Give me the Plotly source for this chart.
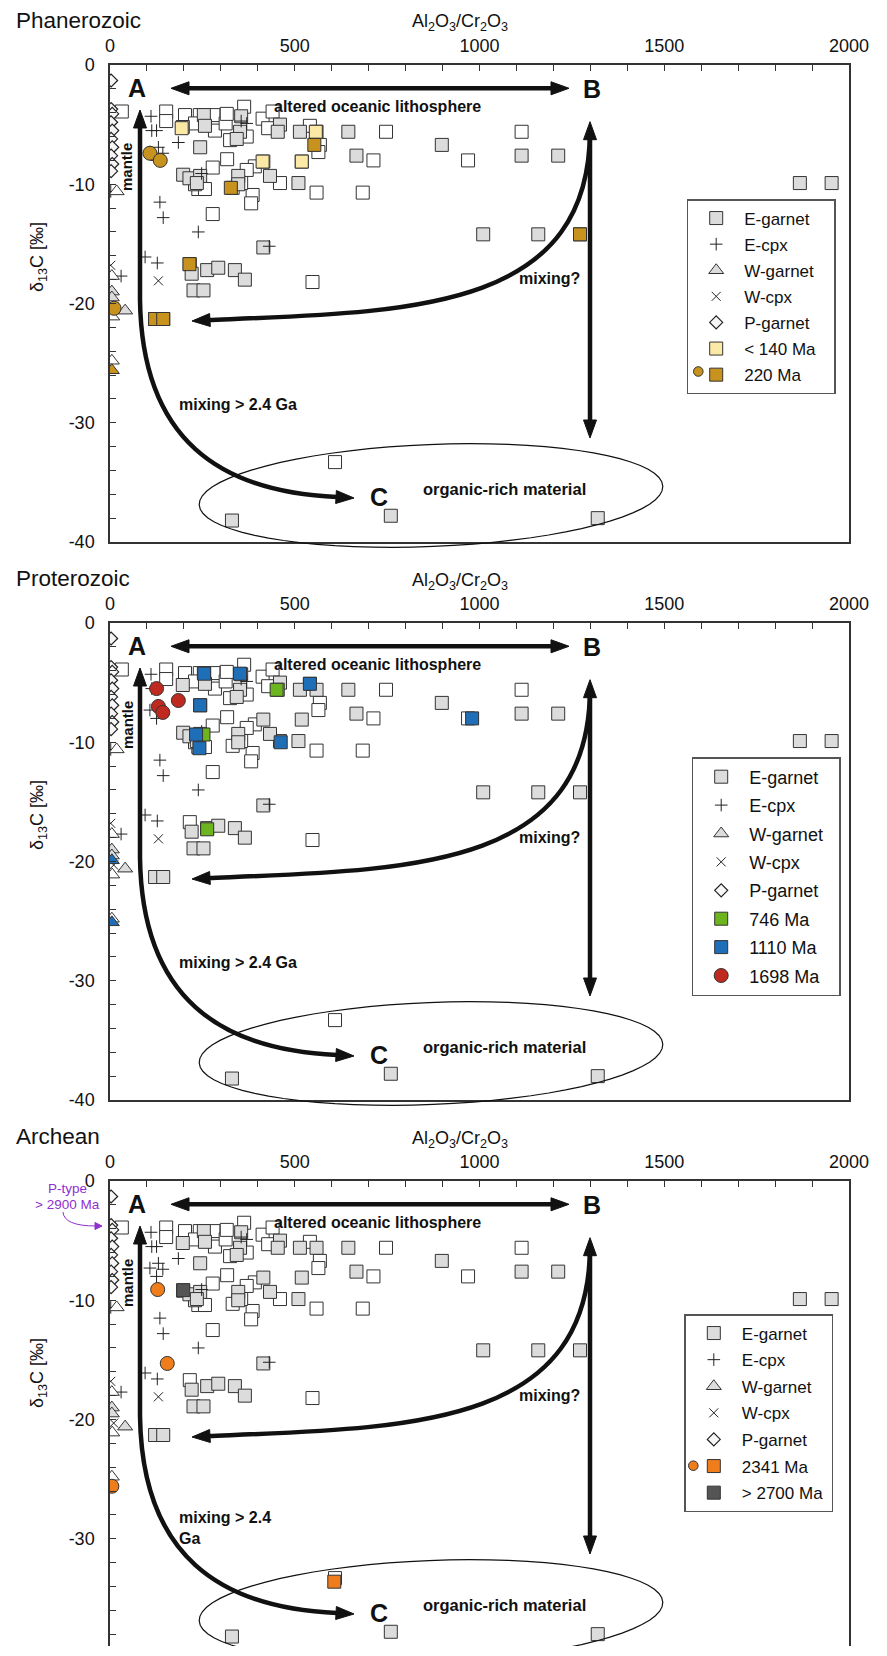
import numpy as np
import plotly.graph_objects as go

# page geometry (reference pixels) and the 8px body offset of the html page
PAGE_W, PAGE_H = 887, 1656
OFF = 8
W, H = 869, 1638            # figure size so that the page fits without scrollbars
TOPS = [65, 623, 1181]      # page y of the plot tops
PH = 477
XL, XR = 110, 849

# ---------------- data (Al2O3/Cr2O3 , d13C) ----------------
egarnet_x = [254, 257, 197, 355, 352, 343, 460, 454, 514, 559, 645, 898, 244, 415, 519, 667, 198, 215, 244, 235,
             347, 347, 433, 510, 415, 221, 263, 293, 338, 365, 226, 253, 122, 144, 1114, 1213, 1867, 1953, 1010,
             1159, 1272, 330, 760, 1320]
egarnet_y = [-4.2, -5.1, -5.2, -4.3, -5.6, -6.2, -5.0, -5.6, -5.6, -5.6, -5.6, -6.7, -6.9, -8.1, -8.1, -7.6, -9.2,
             -9.5, -9.3, -9.9, -9.3, -10.0, -9.3, -9.9, -15.3, -17.5, -17.2, -17.0, -17.2, -18.0, -18.9, -18.9,
             -21.3, -21.3, -7.6, -7.6, -9.9, -9.9, -14.2, -14.2, -14.2, -38.2, -37.8, -38.0]

eopen_x = [32, 152, 152, 203, 243, 230, 280, 284, 313, 316, 363, 370, 325, 413, 440, 428, 541, 568, 564, 747, 317,
           392, 713, 278, 239, 257, 332, 370, 386, 382, 460, 559, 684, 278, 216, 548, 1114, 969, 609, 355, 230]
eopen_y = [-3.9, -3.9, -4.7, -4.2, -4.2, -4.9, -4.2, -5.5, -4.9, -4.1, -3.5, -6.0, -6.3, -4.5, -3.9, -5.3, -5.1,
           -6.7, -7.3, -5.6, -7.9, -8.5, -8.0, -8.6, -10.4, -10.4, -10.3, -8.8, -10.9, -11.6, -9.9, -10.7, -10.7,
           -12.5, -16.7, -18.2, -5.6, -8.0, -33.3, -9.9, -10.0]

ecpx_x = [2, 111, 113, 126, 185, 108, 131, 143, 126, 248, 135, 144, 239, 95, 128, 431, 30, 355, 370]
ecpx_y = [-10.6, -4.3, -5.5, -5.5, -6.5, -7.3, -6.9, -7.4, -8.0, -9.1, -11.5, -12.8, -14.0, -16.1, -16.6, -15.2,
          -17.7, -4.7, -4.9]

wcpx_x = [3, 3, 2, 131, 10]
wcpx_y = [-4.3, -5.0, -16.8, -18.1, -20.3]

wgarnet_x = [5, 5, 41]
wgarnet_y = [-19.0, -19.5, -20.6]
wgarnet_open_x = [18, 5, 6, 5]
wgarnet_open_y = [-10.6, -17.7, -21.1, -24.8]

pgarnet_x = [3, 3, 6, 3, 6, 3, 6, 3, 6, 3]
pgarnet_y = [-1.3, -3.7, -4.1, -4.8, -5.5, -6.2, -6.9, -7.6, -8.3, -8.9]

# Phanerozoic highlights
lt140_x = [194, 557, 413, 519]
lt140_y = [-5.3, -5.6, -8.1, -8.1]
ma220_sq_x = [553, 327, 215, 122, 144, 1272]
ma220_sq_y = [-6.7, -10.3, -16.7, -21.3, -21.3, -14.2]
ma220_ci_x = [108, 136, 11]
ma220_ci_y = [-7.4, -8.0, -20.4]
ma220_tri_x = [5]
ma220_tri_y = [-25.6]

# Proterozoic highlights
ma746_x = [451, 253, 263]
ma746_y = [-5.6, -9.35, -17.3]
ma1110_x = [255, 352, 541, 244, 233, 242, 462, 980]
ma1110_y = [-4.25, -4.25, -5.1, -6.9, -9.35, -10.5, -10.0, -8.0]
ma1110_tri_x = [5, 5]
ma1110_tri_y = [-19.9, -25.1]
ma1698_x = [126, 185, 131, 143]
ma1698_y = [-5.5, -6.5, -7.0, -7.5]

# Archean highlights
ma2341_ci_x = [129, 155, 5]
ma2341_ci_y = [-9.1, -15.3, -25.6]
ma2341_sq_x = [607]
ma2341_sq_y = [-33.6]
ma2700_x = [198]
ma2700_y = [-9.15]

x_ticks = [0, 500, 1000, 1500, 2000]
y_ticks = [-40, -30, -20, -10, 0]
y_ticktext = ["-40", "-30", "-20", "-10", "0"]
panel_titles = ["Phanerozoic", "Proterozoic", "Archean"]

# ---------------- styling ----------------
FONT = "Liberation Sans, Arial, Helvetica, sans-serif"
EDGE = "#333333"
GRAY = "#dcdcdc"
GOLD = "#c8921e"
LIGHT = "#fde9a6"
GREEN = "#6db51f"
BLUE = "#1f6eb8"
RED = "#c0291f"
ORANGE = "#f07d1c"
DARK = "#555555"
PURPLE = "#9030d0"


def fx(x):
    return (x - OFF) / W


def fy(y):
    return 1 - (y - OFF) / H


fig = go.Figure()


def sc(i, x, y, name, symbol, size, color, legend, lw=1.0, linecolor=EDGE):
    xa = "x" if i == 0 else f"x{i+1}"
    ya = "y" if i == 0 else f"y{i+1}"
    lg = "legend" if i == 0 else f"legend{i+1}"
    fig.add_trace(go.Scatter(
        x=x, y=y, mode="markers", name=name, xaxis=xa, yaxis=ya, legend=lg,
        legendgroup=f"p{i}_{name}_{symbol}", showlegend=legend,
        marker=dict(symbol=symbol, size=size, color=color, line=dict(color=linecolor, width=lw)),
        hoverinfo="skip"))


pads = ["\u00a0" * 4, "\u00a0" * 3, "\u00a0" * 4]
for i in range(3):
    sc(i, eopen_x, eopen_y, "open", "square", 13, "white", False)
    sc(i, egarnet_x, egarnet_y, "E-garnet" + pads[i], "square", 13, GRAY, True)
    sc(i, ecpx_x, ecpx_y, "E-cpx", "cross-thin", 9, "#222", True, lw=1.0, linecolor="#222")
    sc(i, wgarnet_open_x, wgarnet_open_y, "wopen", "triangle-up", 13, "white", False)
    sc(i, wgarnet_x, wgarnet_y, "W-garnet", "triangle-up", 13, GRAY, True)
    sc(i, wcpx_x, wcpx_y, "W-cpx", "x-thin", 9, "#222", True, lw=1.0, linecolor="#222")
    sc(i, pgarnet_x, pgarnet_y, "P-garnet", "diamond", 10, "#f6f6f6", True, lw=1.2, linecolor="#222")
    if i == 0:
        sc(i, lt140_x, lt140_y, "&lt; 140 Ma", "square", 13, LIGHT, True)
        sc(i, ma220_ci_x, ma220_ci_y, "220c", "circle", 14, GOLD, False)
        sc(i, ma220_tri_x, ma220_tri_y, "220t", "triangle-up", 13, GOLD, False)
        sc(i, ma220_sq_x, ma220_sq_y, "220 Ma", "square", 13, GOLD, True)
    elif i == 1:
        sc(i, ma746_x, ma746_y, "746 Ma", "square", 13, GREEN, True)
        sc(i, ma1110_x, ma1110_y, "1110 Ma", "square", 13, BLUE, True)
        sc(i, ma1110_tri_x, ma1110_tri_y, "1110t", "triangle-up", 13, BLUE, False)
        sc(i, ma1698_x, ma1698_y, "1698 Ma", "circle", 14, RED, True)
    else:
        sc(i, ma2341_ci_x, ma2341_ci_y, "2341c", "circle", 14, ORANGE, False)
        sc(i, ma2341_sq_x, ma2341_sq_y, "2341 Ma", "square", 13, ORANGE, True)
        sc(i, ma2700_x, ma2700_y, "&gt; 2700 Ma", "square", 13, DARK, True)

layout = dict(width=W, height=H, margin=dict(l=0, r=0, t=0, b=0, pad=0, autoexpand=False),
              paper_bgcolor="white", plot_bgcolor="white", showlegend=True,
              font=dict(family=FONT, color="#111"))

leg_pos = [(686.7, 199, 17, 1.0), (691.7, 757, 18, 2.0), (684.3, 1314, 17, 1.5)]
px_per_unit = PH / 40.0
for i in range(3):
    top = TOPS[i]
    bot = top + PH
    y0 = fy(bot)
    yr0 = -40
    mirror = True
    if y0 < 0:
        y0 = 0.0
        yr0 = -((OFF + H) - top) / px_per_unit
        mirror = False
    sfx = "" if i == 0 else str(i + 1)
    layout[f"xaxis{sfx}"] = dict(
        domain=[fx(XL), fx(XR)], range=[0, 2000], side="top", anchor=f"y{sfx}",
        tickmode="array", tickvals=x_ticks, ticks="inside", ticklen=6, tickwidth=1, tickcolor="#333",
        minor=dict(tickmode="linear", tick0=0, dtick=100, ticks="inside", ticklen=6, tickcolor="#333"),
        showline=True, mirror=mirror, linecolor="#333", linewidth=1.5, showgrid=False, zeroline=False,
        automargin=False,
        tickfont=dict(size=18, family=FONT, color="#111"), ticklabelstandoff=4, fixedrange=True)
    layout[f"yaxis{sfx}"] = dict(
        domain=[y0, fy(top)], range=[yr0, 0], anchor=f"x{sfx}",
        tickmode="array", tickvals=y_ticks, ticktext=y_ticktext, ticks="inside", ticklen=6, tickwidth=1,
        tickcolor="#333",
        minor=dict(tickmode="linear", tick0=0, dtick=2, ticks="inside", ticklen=6, tickcolor="#333"),
        showline=True, mirror=True, linecolor="#333", linewidth=1.5, showgrid=False, zeroline=False,
        automargin=False,
        tickfont=dict(size=18, family=FONT, color="#111"), ticklabelstandoff=10, fixedrange=True)
    lx, ly, fs, gap = leg_pos[i]
    layout[f"legend{sfx}"] = dict(
        x=fx(lx), y=fy(ly), xanchor="left", yanchor="top", bgcolor="rgba(0,0,0,0)",
        bordercolor="#555", borderwidth=1.5, font=dict(size=fs, family=FONT, color="#111"),
        itemwidth=46, traceorder="grouped", tracegroupgap=gap, itemclick=False, itemdoubleclick=False)

fig.update_layout(**layout)

shapes = []
annotations = []


def cp(x, y):
    return f"{fx(x):.5f},{fy(y):.5f}"


def head(tip, base, length=18, half=6.5, color="#111"):
    tx, ty = tip
    bx, by = base
    d = np.array([tx - bx, ty - by], dtype=float)
    d /= np.hypot(*d)
    b = np.array([tx, ty]) - d * length
    n = np.array([-d[1], d[0]])
    p1 = b + n * half
    p2 = b - n * half
    return dict(type="path", xref="paper", yref="paper",
                path=f"M {cp(tx, ty)} L {cp(*p1)} L {cp(*p2)} Z",
                fillcolor=color, line=dict(color=color, width=1))


def line_path(path, width=4.5, color="#111"):
    return dict(type="path", xref="paper", yref="paper", path=path,
                line=dict(color=color, width=width), fillcolor="rgba(0,0,0,0)")


def txt(x, y, text, size, bold=True, angle=0, xanchor="center", color="#111", align="center", height=None):
    t = f"<b>{text}</b>" if bold else text
    ann = dict(x=fx(x), y=fy(y), xref="paper", yref="paper", text=t, showarrow=False,
               font=dict(size=size, family=FONT, color=color), textangle=angle,
               xanchor=xanchor, yanchor="middle", align=align)
    if height is not None:
        ann["height"] = height
    annotations.append(ann)


for i, T in enumerate(TOPS):
    def P(x, yr):
        return cp(x, T + yr)

    # A <-> B
    shapes.append(line_path(f"M {P(187, 23.3)} L {P(553, 23.3)}"))
    shapes.append(head((171, T + 23.3), (189, T + 23.3)))
    shapes.append(head((569, T + 23.3), (551, T + 23.3)))
    # A -> C
    shapes.append(line_path(f"M {P(140, 61)} L {P(140, 235)} C {P(142, 375)} {P(220, 427)} {P(337, 432)}"))
    shapes.append(head((140, T + 45), (140, T + 63)))
    shapes.append(head((354, T + 433), (336, T + 432)))
    # B vertical
    shapes.append(line_path(f"M {P(590, 72)} L {P(590, 358)}"))
    shapes.append(head((590, T + 56.7), (590, T + 74)))
    shapes.append(head((590, T + 373), (590, T + 356)))
    # B curve
    shapes.append(line_path(f"M {P(590, 65)} C {P(590, 247)} {P(410, 247)} {P(208, 255)}"))
    shapes.append(head((192, T + 256), (210, T + 255)))
    # ellipse
    th = np.deg2rad(-2.3)
    t = np.linspace(0, 2 * np.pi, 73)
    cx, cy, a, b = 431, T + 430.5, 232, 51
    ex = cx + a * np.cos(t) * np.cos(th) - b * np.sin(t) * np.sin(th)
    ey = cy + a * np.cos(t) * np.sin(th) + b * np.sin(t) * np.cos(th)
    pts = " L ".join(cp(x, y) for x, y in zip(ex, ey))
    shapes.append(line_path(f"M {pts} Z", width=1.2))

    txt(137, T + 23, "A", 25)
    txt(592, T + 24, "B", 25)
    txt(379, T + 432, "C", 25)
    txt(377, T + 41, "altered oceanic lithosphere", 16)
    txt(549, T + 214, "mixing?", 16)
    if i < 2:
        txt(177, T + 339, "mixing &gt; 2.4 Ga", 16, xanchor="left")
    else:
        txt(177, T + 347, "mixing &gt; 2.4<br>Ga", 16, xanchor="left", align="left")
    txt(421, T + 424, "organic-rich material", 16.5, xanchor="left")
    txt(127, T + 102, "mantle", 15, angle=-90)
    txt(14, T - 45, panel_titles[i], 22.5, bold=False, xanchor="left", height=22)
    txt(410, T - 42, "Al<sub>2</sub>O<sub>3</sub>/Cr<sub>2</sub>O<sub>3</sub>", 18, bold=False, xanchor="left")
    txt(38, T + 192, "δ<sub>13</sub>C [‰]", 18, bold=False, angle=-90)

# legend extra circles (two-symbol entries)
for (cx, cy, col) in [(698.3, 371.5, GOLD), (693.3, 1465.7, ORANGE)]:
    r = 4.8
    shapes.append(dict(type="circle", xref="paper", yref="paper",
                       x0=fx(cx - r), x1=fx(cx + r), y0=fy(cy + r), y1=fy(cy - r),
                       fillcolor=col, line=dict(color=EDGE, width=1)))

# P-type note (Archean)
txt(67.5, 1188, "P-type", 13.5, bold=False, color=PURPLE)
txt(67.5, 1204, "&gt; 2900 Ma", 13.5, bold=False, color=PURPLE)
shapes.append(line_path(f"M {cp(63, 1212)} Q {cp(64, 1226)} {cp(96, 1226)}", width=1, color=PURPLE))
shapes.append(head((102, 1226), (95, 1226), length=7, half=3.5, color=PURPLE))

fig.update_layout(shapes=shapes, annotations=annotations)
fig.write_html("out.html")
